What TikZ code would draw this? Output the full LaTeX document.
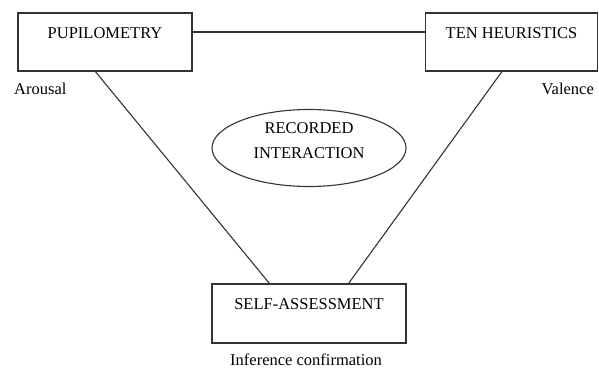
\documentclass[tikz,border=0pt]{standalone}
\usepackage{fontspec}
\setmainfont{Liberation Serif}
\usetikzlibrary{shapes.geometric}
\tikzset{every node/.style={font=\fontsize{16.5}{25}\selectfont},
  box/.style={draw=black!80,line width=1.2pt,rectangle,inner sep=0pt,text height=26pt,text depth=32pt},
  link/.style={draw=black!80,line width=1.1pt}}

\begin{document}
\begin{tikzpicture}[x=1pt,y=-1pt]
 		\useasboundingbox (0,0) rectangle (599,369);
 		\node[box,minimum width=174pt] (pupil) at (105,42) {PUPILOMETRY};
 		\node[box,minimum width=172pt] (heur) at (511.5,42) {TEN HEURISTICS};
 		\node[box,minimum width=194pt,text height=25pt,text depth=34pt] (self) at (309,313.5) {SELF-ASSESSMENT};
 		\node[ellipse,draw=black!80,line width=1.1pt,minimum width=194pt,minimum height=77pt,inner sep=0pt] (rec) at (309,148) {};
 		\node[align=center,inner sep=0pt] (rectext) at (309,141) {RECORDED\\INTERACTION};

 		\node[anchor=base west,inner sep=0pt] (arousal) at (14,94) {Arousal};
 		\node[anchor=base east,inner sep=0pt] (valence) at (594,94) {Valence};
 		\node[anchor=base,inner sep=0pt] (infer) at (306,365) {Inference confirmation};

 		\draw[link] ([yshift=10pt]pupil.east) -- ([yshift=10pt]heur.west);
 		\draw[link] ([xshift=78pt]pupil.south west) -- ([xshift=58pt]self.north west);
 		\draw[link] ([xshift=77pt]heur.south west) -- ([xshift=-58pt]self.north east);
\end{tikzpicture}
\end{document}
